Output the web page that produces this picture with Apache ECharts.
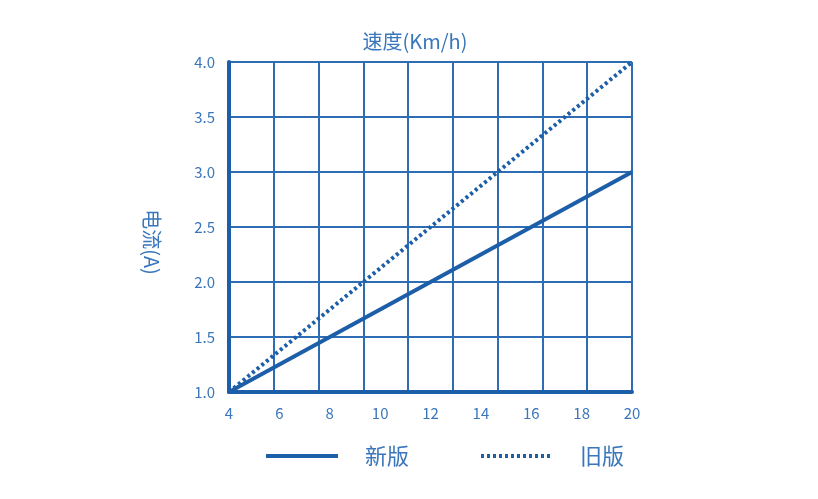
<!DOCTYPE html>
<html>
<head>
<meta charset="utf-8">
<script src="https://cdn.jsdelivr.net/npm/echarts@6/dist/echarts.min.js"></script>
<style>
  html, body { margin: 0; padding: 0; background: #fff; }
  #chart { width: 818px; height: 499px; }
</style>
</head>
<body>
<div id="chart"></div>
<script>
// speed (Km/h) vs current (A)
var speeds = [4, 20];
var newVersion = [1.0, 3.0];
var oldVersion = [1.0, 4.0];
var seriesNames = ['新版', '旧版'];

var blue = '#1d5ea8';
var gridBlue = '#2e6cb3';
var textBlue = '#3a76bb';
var font = '"Noto Sans CJK SC", "Noto Sans", sans-serif';

var chartDom = document.getElementById('chart');
var chart = echarts.init(chartDom);
var option;

option = {
    animation: false,
    textStyle: {fontFamily: font},
    title: {
        text: '速度(Km/h)',
        left: 410,
        top: 26,
        textAlign: 'center',
        textStyle: {color: textBlue, fontSize: 20, fontWeight: 'normal', fontFamily: font}
    },
    legend: {
        top: 440,
        left: 259,
        itemWidth: 72,
        itemHeight: 14,
        itemGap: 70,
        itemStyle: {opacity: 0},
        lineStyle: {width: 4},
        textStyle: {color: textBlue, fontSize: 22, fontFamily: font, padding: [0, 0, 0, 22]},
        data: seriesNames
    },
    grid: {left: 229, right: 186, top: 62, bottom: 107},
    xAxis: [
        {
            type: 'value',
            min: 4,
            max: 20,
            interval: 2,
            axisLine: {show: true, onZero: false, lineStyle: {color: blue, width: 4}},
            axisTick: {show: false},
            axisLabel: {color: textBlue, fontSize: 15, margin: 14, fontFamily: font},
            splitLine: {show: false}
        },
        {
            // grid columns, not tied to the labels
            type: 'value',
            min: 0,
            max: 9,
            interval: 1,
            position: 'bottom',
            axisLine: {show: false},
            axisTick: {show: false},
            axisLabel: {show: false},
            splitLine: {show: true, lineStyle: {color: gridBlue, width: 2}}
        }
    ],
    yAxis: {
        type: 'value',
        min: 1,
        max: 4,
        interval: 0.5,
        name: '电流(A)',
        nameLocation: 'middle',
        nameRotate: -90,
        nameGap: 67,
        nameTextStyle: {color: textBlue, fontSize: 20, fontFamily: font, padding: [0, 0, 0, 30]},
        axisLine: {show: true, onZero: false, lineStyle: {color: blue, width: 4}},
        axisTick: {show: false},
        axisLabel: {
            color: textBlue, fontSize: 15, margin: 14, fontFamily: font,
            formatter: function (v) { return v.toFixed(1); }
        },
        splitLine: {show: true, lineStyle: {color: gridBlue, width: 2}}
    },
    series: [
        {
            name: seriesNames[0],
            type: 'line',
            xAxisIndex: 0,
            symbol: 'none',
            data: speeds.map(function (s, i) { return [s, newVersion[i]]; }),
            lineStyle: {color: blue, width: 4},
            itemStyle: {color: blue},
            z: 5
        },
        {
            name: seriesNames[1],
            type: 'line',
            xAxisIndex: 0,
            symbol: 'none',
            data: speeds.map(function (s, i) { return [s, oldVersion[i]]; }),
            lineStyle: {color: blue, width: 4, type: [3, 3]},
            itemStyle: {color: blue},
            z: 5
        }
    ]
};

option && chart.setOption(option);
</script>
</body>
</html>
